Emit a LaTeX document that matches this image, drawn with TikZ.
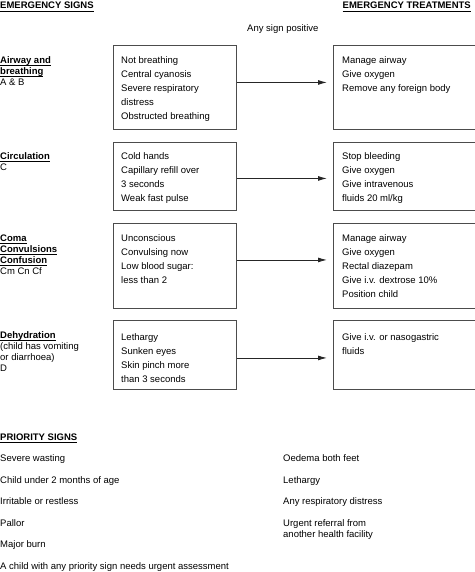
\documentclass[tikz,border=0pt]{standalone}
\usepackage{fontspec}
\setmainfont{Liberation Sans}
\usetikzlibrary{arrows.meta,calc}
\tikzset{
  sbox/.style={draw=black!70, line width=0.9pt, rectangle, anchor=north west, inner sep=0pt},
  lines/.style={anchor=north west, align=left, inner sep=0pt, font=\fontsize{9.5}{14}\selectfont},
  lbl/.style={anchor=north west, align=left, inner sep=0pt, font=\fontsize{9.5}{11}\selectfont},
  item/.style={anchor=base west, inner sep=0pt, font=\fontsize{9.5}{11.5}\selectfont},
  go/.style={-{Latex[length=9pt,width=5pt]}, line width=0.9pt, black!85, shorten >=6pt}
}
\newcommand{\hd}[1]{\setbox0\hbox{\textbf{#1}}\rlap{\rule[-2.3pt]{\wd0}{0.6pt}}\box0}
\begin{document}
\begin{tikzpicture}[x=1pt,y=-1pt]
\useasboundingbox (0,0) rectangle (474,572);
% headings
\node[item] (hs) at (0,9) {\hd{EMERGENCY SIGNS}};
\node[item, anchor=base east] (ht) at (471,9) {\hd{EMERGENCY TREATMENTS}};
\node[item] (pos) at (247,31.5) {Any sign positive};
% row labels
\node[lbl] (la) at (0,56.5) {\hd{Airway and}\\\hd{breathing}\\A \& B};
\node[lbl] (lc) at (0,152.5) {\hd{Circulation}\\C};
\node[lbl] (lm) at (0,234.5) {\hd{Coma}\\\hd{Convulsions}\\\hd{Confusion}\\Cm Cn Cf};
\node[lbl] (ld) at (0,331.5) {\hd{Dehydration}\\(child has vomiting\\or diarrhoea)\\D};
% sign boxes
\node[sbox, minimum width=123pt, minimum height=84pt] (s1) at (113,45) {};
\node[sbox, minimum width=123pt, minimum height=68pt] (s2) at (113,142) {};
\node[sbox, minimum width=123pt, minimum height=85pt] (s3) at (113,223) {};
\node[sbox, minimum width=123pt, minimum height=69pt] (s4) at (113,320) {};
% treatment boxes
\node[sbox, minimum width=150pt, minimum height=84pt] (t1) at (333,45) {};
\node[sbox, minimum width=150pt, minimum height=68pt] (t2) at (333,142) {};
\node[sbox, minimum width=150pt, minimum height=85pt] (t3) at (333,223) {};
\node[sbox, minimum width=150pt, minimum height=69pt] (t4) at (333,320) {};
% box texts
\node[lines] (s1t) at ($(s1.north west)+(8,11.5)$) {Not breathing\\Central cyanosis\\Severe respiratory\\distress\\Obstructed breathing};
\node[lines] (s2t) at ($(s2.north west)+(8,10.5)$) {Cold hands\\Capillary refill over\\3 seconds\\Weak fast pulse};
\node[lines] (s3t) at ($(s3.north west)+(8,11.5)$) {Unconscious\\Convulsing now\\Low blood sugar:\\less than 2};
\node[lines] (s4t) at ($(s4.north west)+(8,13.5)$) {Lethargy\\Sunken eyes\\Skin pinch more\\than 3 seconds};
\node[lines] (t1t) at ($(t1.north west)+(9,11.5)$) {Manage airway\\Give oxygen\\Remove any foreign body};
\node[lines] (t2t) at ($(t2.north west)+(9,10.5)$) {Stop bleeding\\Give oxygen\\Give intravenous\\fluids 20 ml/kg};
\node[lines] (t3t) at ($(t3.north west)+(9,11.5)$) {Manage airway\\Give oxygen\\Rectal diazepam\\Give i.v. dextrose 10\%\\Position child};
\node[lines] (t4t) at ($(t4.north west)+(9,13.5)$) {Give i.v. or nasogastric\\fluids};
% arrows
\draw[go] ($(s1.east)+(0,-5)$) -- ($(t1.west)+(0,-5)$);
\draw[go] ($(s2.east)+(0,2)$) -- ($(t2.west)+(0,2)$);
\draw[go] ($(s3.east)+(0,-6)$) -- ($(t3.west)+(0,-6)$);
\draw[go] ($(s4.east)+(0,3)$) -- ($(t4.west)+(0,3)$);
% priority signs
\node[item] (ph) at (0,440) {\hd{PRIORITY SIGNS}};
\node[item] (p1) at (0,461.5) {Severe wasting};
\node[item] (p2) at (0,483) {Child under 2 months of age};
\node[item] (p3) at (0,504.5) {Irritable or restless};
\node[item] (p4) at (0,526) {Pallor};
\node[item] (p5) at (0,547) {Major burn};
\node[item] (p6) at (0,569) {A child with any priority sign needs urgent assessment};
\node[item] (q1) at (283,461.5) {Oedema both feet};
\node[item] (q2) at (283,483) {Lethargy};
\node[item] (q3) at (283,504.5) {Any respiratory distress};
\node[item, align=left, anchor=north west] (q4) at (283,519) {Urgent referral from\\another health facility};
\end{tikzpicture}
\end{document}
